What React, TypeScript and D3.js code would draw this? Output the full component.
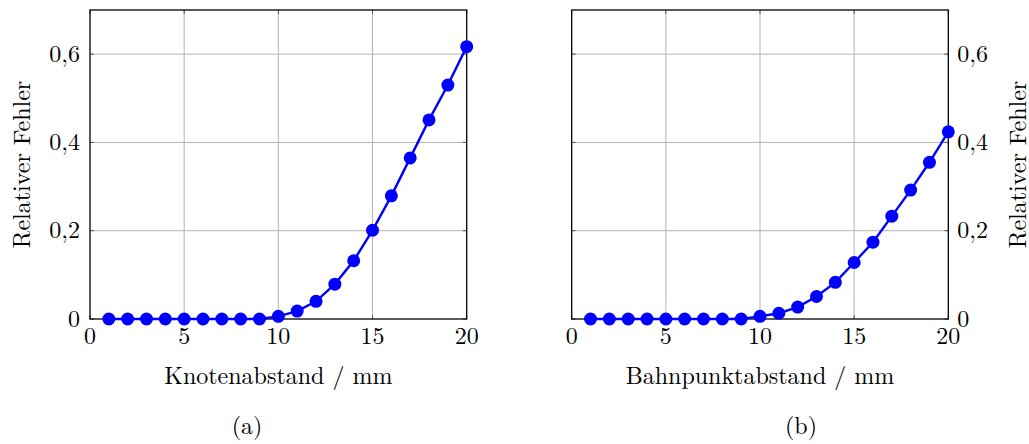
import React from "react";
import * as d3 from "d3";

const xValues = [1, 2, 3, 4, 5, 6, 7, 8, 9, 10, 11, 12, 13, 14, 15, 16, 17, 18, 19, 20];
const seriesA = [0, 0, 0, 0, 0, 0, 0, 0, 0, 0.006, 0.018, 0.04, 0.079, 0.132, 0.201, 0.279, 0.365, 0.451, 0.53, 0.617];
const seriesB = [0, 0, 0, 0, 0, 0, 0, 0, 0, 0.006, 0.013, 0.027, 0.051, 0.083, 0.128, 0.174, 0.233, 0.292, 0.355, 0.424];
const xTicks = [0, 5, 10, 15, 20];
const yTicks = [0, 0.2, 0.4, 0.6];
const yTickLabels = ["0", "0,2", "0,4", "0,6"];
const xLabels = ["Knotenabstand / mm", "Bahnpunktabstand / mm"];
const subLabels = ["(a)", "(b)"];
const yLabel = "Relativer Fehler";

const FONT = "Latin Modern Roman";
const FS = 24;

function Panel({ left, right, values, xLabel, sub, subX, yAxisRight }: any) {
  const top = 10, bottom = 319;
  const x = d3.scaleLinear().domain([0, 20]).range([left, right]);
  const y = d3.scaleLinear().domain([0, 0.7]).range([bottom, top]);
  const line = d3.line<number>().x((_, i) => x(xValues[i])).y((v) => y(v));
  const pts = values as number[];
  const cx = (left + right) / 2;
  const ts = { fontFamily: FONT, fontSize: FS, fill: "#000" };
  return (
    <g>
      {xTicks.slice(1, -1).map((t) => (
        <line key={"gx" + t} x1={x(t)} x2={x(t)} y1={top} y2={bottom} stroke="#b3b3b3" strokeWidth={1} />
      ))}
      {yTicks.slice(1).map((t) => (
        <line key={"gy" + t} x1={left} x2={right} y1={y(t)} y2={y(t)} stroke="#b3b3b3" strokeWidth={1} />
      ))}
      {xTicks.map((t) => (
        <g key={"tx" + t}>
          <line x1={x(t)} x2={x(t)} y1={bottom} y2={bottom - 4} stroke="#555" strokeWidth={1} />
          <line x1={x(t)} x2={x(t)} y1={top} y2={top + 4} stroke="#555" strokeWidth={1} />
          <text x={x(t)} y={bottom + 25} textAnchor="middle" style={ts}>{t}</text>
        </g>
      ))}
      {yTicks.map((t, i) => (
        <g key={"ty" + t}>
          <line x1={left} x2={left + 4} y1={y(t)} y2={y(t)} stroke="#555" strokeWidth={1} />
          <line x1={right} x2={right - 4} y1={y(t)} y2={y(t)} stroke="#555" strokeWidth={1} />
          <text
            x={yAxisRight ? right + 9 : left - 10}
            y={y(t) + 7.5}
            textAnchor={yAxisRight ? "start" : "end"}
            style={ts}
          >
            {yTickLabels[i]}
          </text>
        </g>
      ))}
      <rect x={left} y={top} width={right - left} height={bottom - top} fill="none" stroke="#000" strokeWidth={1.3} />
      <path d={line(pts) || ""} fill="none" stroke="#0000ff" strokeWidth={2.4} />
      {pts.map((v, i) => (
        <circle key={i} cx={x(xValues[i])} cy={y(v)} r={6.5} fill="#0000ff" />
      ))}
      <text x={cx} y={384} textAnchor="middle" style={ts}>{xLabel}</text>
      <text x={subX} y={434} textAnchor="middle" style={ts}>{sub}</text>
      <text
        transform={`translate(${yAxisRight ? right + 78 : left - 60},${(top + bottom) / 2}) rotate(-90)`}
        textAnchor="middle"
        style={ts}
      >
        {yLabel}
      </text>
    </g>
  );
}

export default function App() {
  return (
    <svg width={1029} height={444} style={{ position: "absolute", left: 0, top: 0, background: "#fff" }}>
      <Panel left={90} right={466.7} values={seriesA} xLabel={xLabels[0]} sub={subLabels[0]} subX={247} yAxisRight={false} />
      <Panel left={571.7} right={948.3} values={seriesB} xLabel={xLabels[1]} sub={subLabels[1]} subX={801} yAxisRight={true} />
    </svg>
  );
}
